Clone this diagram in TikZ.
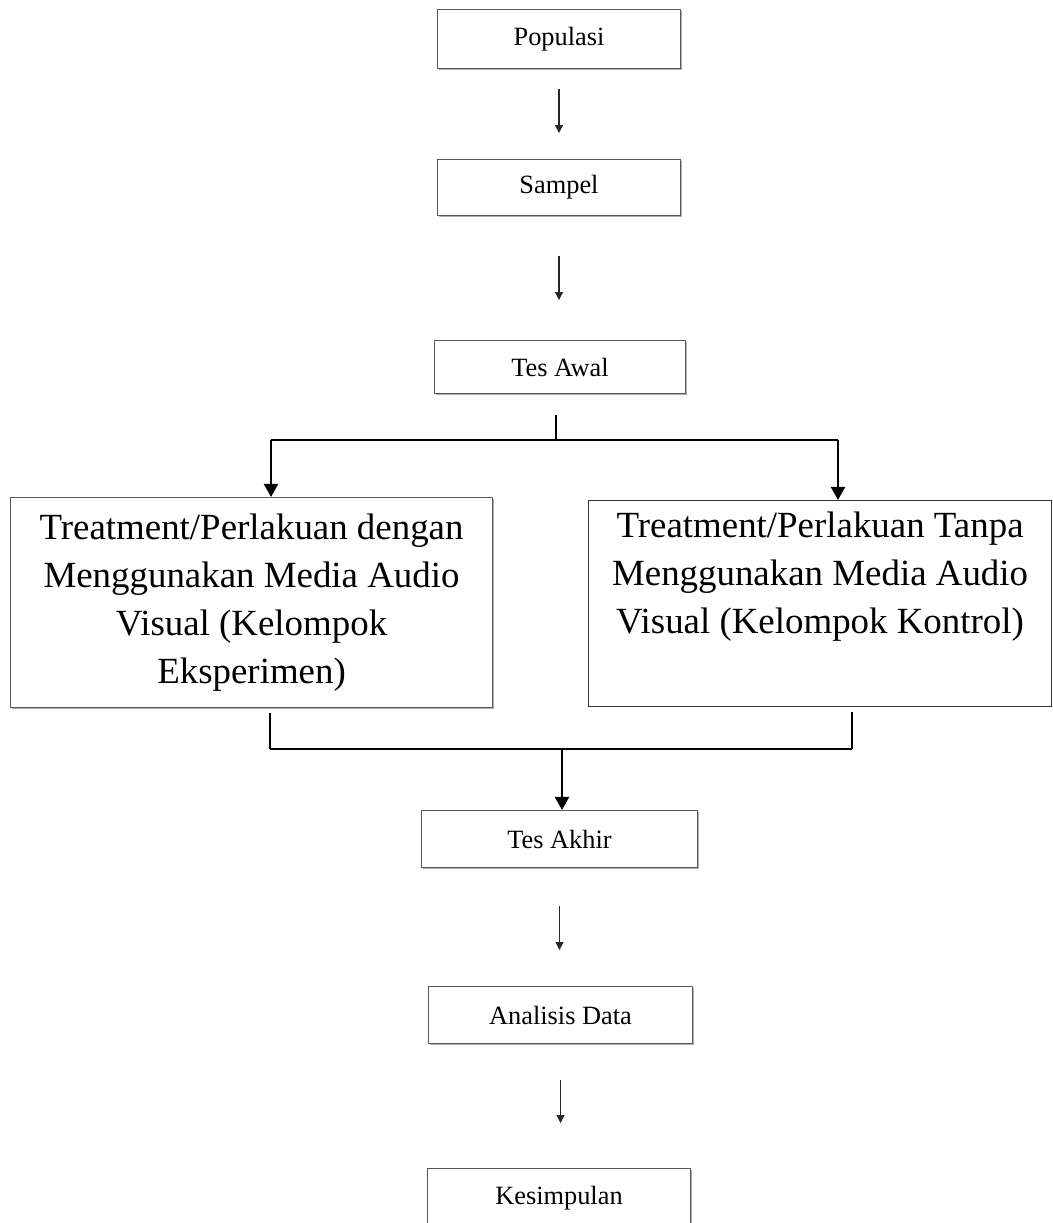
\documentclass[tikz,border=0pt]{standalone}
\usepackage{fontspec}
\setmainfont{Liberation Serif}
\usetikzlibrary{arrows.meta,shadows}

\begin{document}
\begin{tikzpicture}[x=0.02cm, y=-0.02cm,
    smallbox/.style={draw=black!65, line width=0.6pt, fill=white, anchor=north west,
      drop shadow={shadow xshift=0.03cm, shadow yshift=-0.03cm, fill=black!45, opacity=0.7},
      font=\fontsize{15}{18}\selectfont, inner sep=0pt},
    bigbox/.style={draw=black!80, line width=0.7pt, fill=white, anchor=north west,
      align=center, font=\fontsize{21}{27.3}\selectfont, inner sep=0pt},
    thinarrow/.style={-{Triangle[width=4.5pt,length=4.5pt]}, line width=0.7pt, black!85},
    thickline/.style={line width=1.4pt},
    thickarrow/.style={thickline, -{Triangle[width=8pt,length=7.5pt]}}]
      \useasboundingbox (0,0) rectangle (1053,1223);

      % Boxes before the treatment
      \node[smallbox, minimum width=4.86cm, minimum height=1.18cm] (pop) at (437,9) {Populasi};
      \node[smallbox, minimum width=4.86cm, minimum height=1.12cm] (sam) at (437,159) {Sampel};
      \node[smallbox, minimum width=5.02cm, minimum height=1.06cm] (awal) at (434,340) {Tes Awal};

      % Treatment boxes
      \node[bigbox, draw=black!65,
        drop shadow={shadow xshift=0.03cm, shadow yshift=-0.03cm, fill=black!45, opacity=0.7},
        minimum width=9.64cm, minimum height=4.2cm] (eks) at (10,497)
        {Treatment/Perlakuan dengan\\Menggunakan Media Audio\\Visual (Kelompok\\Eksperimen)};
      \node[bigbox, minimum width=9.26cm, minimum height=4.12cm] (kon) at (588,500)
        {Treatment/Perlakuan Tanpa\\Menggunakan Media Audio\\Visual (Kelompok Kontrol)\\\strut};

      % Boxes after the treatment
      \node[smallbox, minimum width=5.52cm, minimum height=1.14cm] (akhir) at (421,810) {Tes Akhir};
      \node[smallbox, minimum width=5.28cm, minimum height=1.14cm] (analisis) at (428,986) {Analisis Data};
      \node[smallbox, minimum width=5.26cm, minimum height=1.2cm] (simpul) at (427,1168) {Kesimpulan};

      % Split and merge points
      \coordinate (split) at (556,440);
      \coordinate (splitL) at (271,440);
      \coordinate (splitR) at (838,440);
      \coordinate (mergeL) at (270,749);
      \coordinate (mergeR) at (852,749);
      \coordinate (merge) at (562,749);

      % Thin arrows
      \draw[thinarrow, shorten <=0.4cm, shorten >=0.52cm] (pop) -- (sam);
      \draw[thinarrow, shorten <=0.8cm, shorten >=0.8cm] (sam.south) -- (sam.south |- awal.north);

      % Split into the two groups
      \draw[thickline, shorten <=0.42cm] (split |- awal.south) -- (split);
      \draw[thickline] (splitL) -- (splitR);
      \draw[thickarrow] (splitL) -- (splitL |- eks.north);
      \draw[thickarrow] (splitR) -- (splitR |- kon.north);

      % Merge into the final test
      \draw[thickline, shorten <=0.1cm] (mergeL |- eks.south) -- (mergeL);
      \draw[thickline, shorten <=0.1cm] (mergeR |- kon.south) -- (mergeR);
      \draw[thickline] (mergeL) -- (mergeR);
      \draw[thickarrow] (merge) -- (merge |- akhir.north);

      % Thin arrows to the end
      \draw[thinarrow, shorten <=0.76cm, shorten >=0.72cm] (akhir.south) -- (akhir.south |- analisis.north);
      \draw[thinarrow, shorten <=0.72cm, shorten >=0.9cm] (analisis.south) -- (analisis.south |- simpul.north);
    \end{tikzpicture}
\end{document}
